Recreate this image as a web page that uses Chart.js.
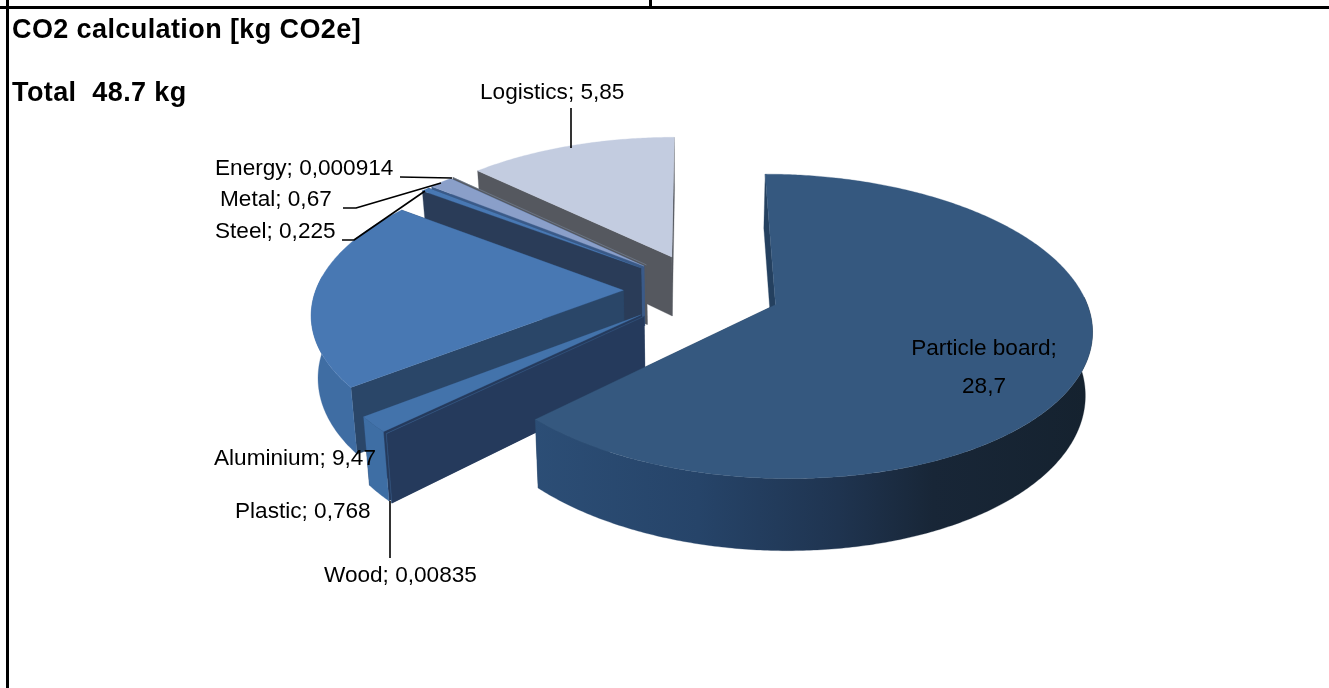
<!DOCTYPE html>
<html>
<head>
<meta charset="utf-8">
<style>
html,body{margin:0;padding:0;background:#fff;width:1329px;height:688px;overflow:hidden}
canvas{position:absolute;left:0;top:0}
.rule{position:absolute;background:#000}
.head{position:absolute;font:bold 27px "Liberation Sans",Arial,sans-serif;letter-spacing:0.4px;color:#000;white-space:pre;line-height:30px}
</style>
</head>
<body>
<canvas id="c" width="1329" height="688"></canvas>
<div class="rule" style="left:0;top:6px;width:1329px;height:3px"></div>
<div class="rule" style="left:6px;top:0;width:3px;height:688px"></div>
<div class="rule" style="left:649px;top:0;width:3px;height:6px"></div>
<div class="head" style="left:12px;top:14px">CO2 calculation [kg CO2e]</div>
<div class="head" style="left:12px;top:77px">Total  48.7 kg</div>
<script src="https://cdn.jsdelivr.net/npm/chart.js@4"></script>
<script>
const categories = ['Particle board','Wood','Plastic','Aluminium','Steel','Metal','Energy','Logistics'];
const values = [28.7,0.00835,0.768,9.47,0.225,0.67,0.000914,5.85];
const topColors = ['#35587f','#3a5f8c','#4373ab','#4878b3','#4878b3','#8a9fc9','#7e8fa8','#c3cce0'];
const faceColors = ['#24405f','#253a5c','#253a5c','#2a4668','#2a3c58','#3a5a88','#55585f','#55585f'];
const rimColors = ['#2a4a70','#3a5f8c','#3e6ea4','#3f6da3','#3f6da3','#7a90b8','#55585f','#55585f'];

/* view of the pie plane */
const VIEW = {ox:702, oy:290, vx:692, rx:307.5, ry:145, p:0.14, depth:61, shrink:0.982};

function project(X, Y, low){
  const w = 1/(1 - VIEW.p*Y);
  let sx = VIEW.vx + (VIEW.ox - VIEW.vx + X*VIEW.rx)*w;
  let sy = VIEW.oy + VIEW.ry*Y*w;
  if(low){ sx = VIEW.vx + (sx - VIEW.vx)*VIEW.shrink; sy += VIEW.depth*w; }
  return [sx, sy];
}
function geom(el){
  const g = el.getProps(['startAngle','endAngle','outerRadius'], true);
  const mid = (g.startAngle + g.endAngle)/2;
  const d = el.options.offset/g.outerRadius;
  return {a0:g.startAngle, a1:g.endAngle, ax:d*Math.cos(mid), ay:d*Math.sin(mid)};
}
function rimPoints(s, low, reverse){
  const pts = [], n = Math.max(2, Math.ceil((s.a1 - s.a0)/0.01));
  for(let i=0;i<=n;i++){
    const t = s.a0 + (s.a1 - s.a0)*(reverse ? n-i : i)/n;
    pts.push(project(s.ax + Math.cos(t), s.ay + Math.sin(t), low));
  }
  return pts;
}
function fillPoly(ctx, pts, style){
  ctx.beginPath();
  pts.forEach((p,i)=> i ? ctx.lineTo(p[0],p[1]) : ctx.moveTo(p[0],p[1]));
  ctx.closePath();
  ctx.fillStyle = style; ctx.strokeStyle = style; ctx.lineWidth = 0.3;
  ctx.fill(); ctx.stroke();
}
const pie3d = {
  id:'pie3d',
  beforeDatasetsDraw(chart){
    const ctx = chart.ctx, arcs = chart.getDatasetMeta(0).data;
    const items = arcs.map((el,i)=>{const s=geom(el); return {i, s, y:project(s.ax,s.ay)[1]};});
    const biggest = values.indexOf(Math.max(...values));
    items.sort((a,b)=> (a.i===biggest)-(b.i===biggest) || a.y-b.y);
    items.forEach(({i,s})=>{
      const apexT = project(s.ax,s.ay,false), apexB = project(s.ax,s.ay,true);
      const first = rimPoints({...s,a1:s.a0+1e-4},false), last = rimPoints({...s,a0:s.a1-1e-4},false);
      const firstB = rimPoints({...s,a1:s.a0+1e-4},true), lastB = rimPoints({...s,a0:s.a1-1e-4},true);
      fillPoly(ctx,[apexT,last[0],lastB[0],apexB],faceColors[i]);
      fillPoly(ctx,[apexT,first[0],firstB[0],apexB],faceColors[i]);
      /* only the part of the rim turned toward the viewer */
      const vis = {...s, a0:Math.max(s.a0,-0.05), a1:Math.min(s.a1,Math.PI+0.1)};
      if(vis.a1 > vis.a0){
        let rim = rimColors[i];
        if(i===biggest){
          rim = ctx.createLinearGradient(530,0,1090,0);
          rim.addColorStop(0,'#2c4e76');
          rim.addColorStop(0.3,'#264469');
          rim.addColorStop(0.55,'#1f3450');
          rim.addColorStop(0.72,'#182637');
          rim.addColorStop(1,'#15222f');
        }
        fillPoly(ctx,rimPoints(vis,false,false).concat(rimPoints(vis,true,true)),rim);
      }
      fillPoly(ctx,[apexT].concat(rimPoints(s,false,false)),topColors[i]);
    });
    drawLabels(ctx);
    return false;
  }
};
const labelText = i => categories[i] + '; ' + String(values[i]).replace('.',',');
function drawLabels(ctx){
  ctx.strokeStyle='#000'; ctx.lineWidth=1.6; ctx.lineJoin='round';
  [[[571,108],[571,148]],
   [[400,177],[452,178]],
   [[343,208],[356,208],[441,183]],
   [[342,240],[354,240],[425,191]],
   [[390,501],[390,558]]].forEach(l=>{
     ctx.beginPath();
     l.forEach((p,i)=> i ? ctx.lineTo(p[0],p[1]) : ctx.moveTo(p[0],p[1]));
     ctx.stroke();
  });
  ctx.fillStyle='#000'; ctx.textBaseline='middle'; ctx.textAlign='left';
  ctx.font='22.6px "Liberation Sans",Arial,sans-serif';
  const at = (t,x,y)=>ctx.fillText(t,x,y);
  at(labelText(7),480,93);
  at(labelText(6),215,169);
  at(labelText(5),220,200);
  at(labelText(4),215,232);
  at(labelText(3),214,459);
  at(labelText(2),235,512);
  at(labelText(1),324,576);
  ctx.textAlign='center';
  at(categories[0]+';',984,349);
  at(String(values[0]).replace('.',','),984,387);
}
new Chart(document.getElementById('c'),{
  type:'pie',
  data:{labels:categories,datasets:[{data:values,backgroundColor:topColors,borderWidth:0,offset:78}]},
  options:{responsive:false,animation:false,layout:{padding:0},
    plugins:{legend:{display:false},tooltip:{enabled:false},title:{display:false}}},
  plugins:[pie3d]
});
</script>
</body>
</html>
